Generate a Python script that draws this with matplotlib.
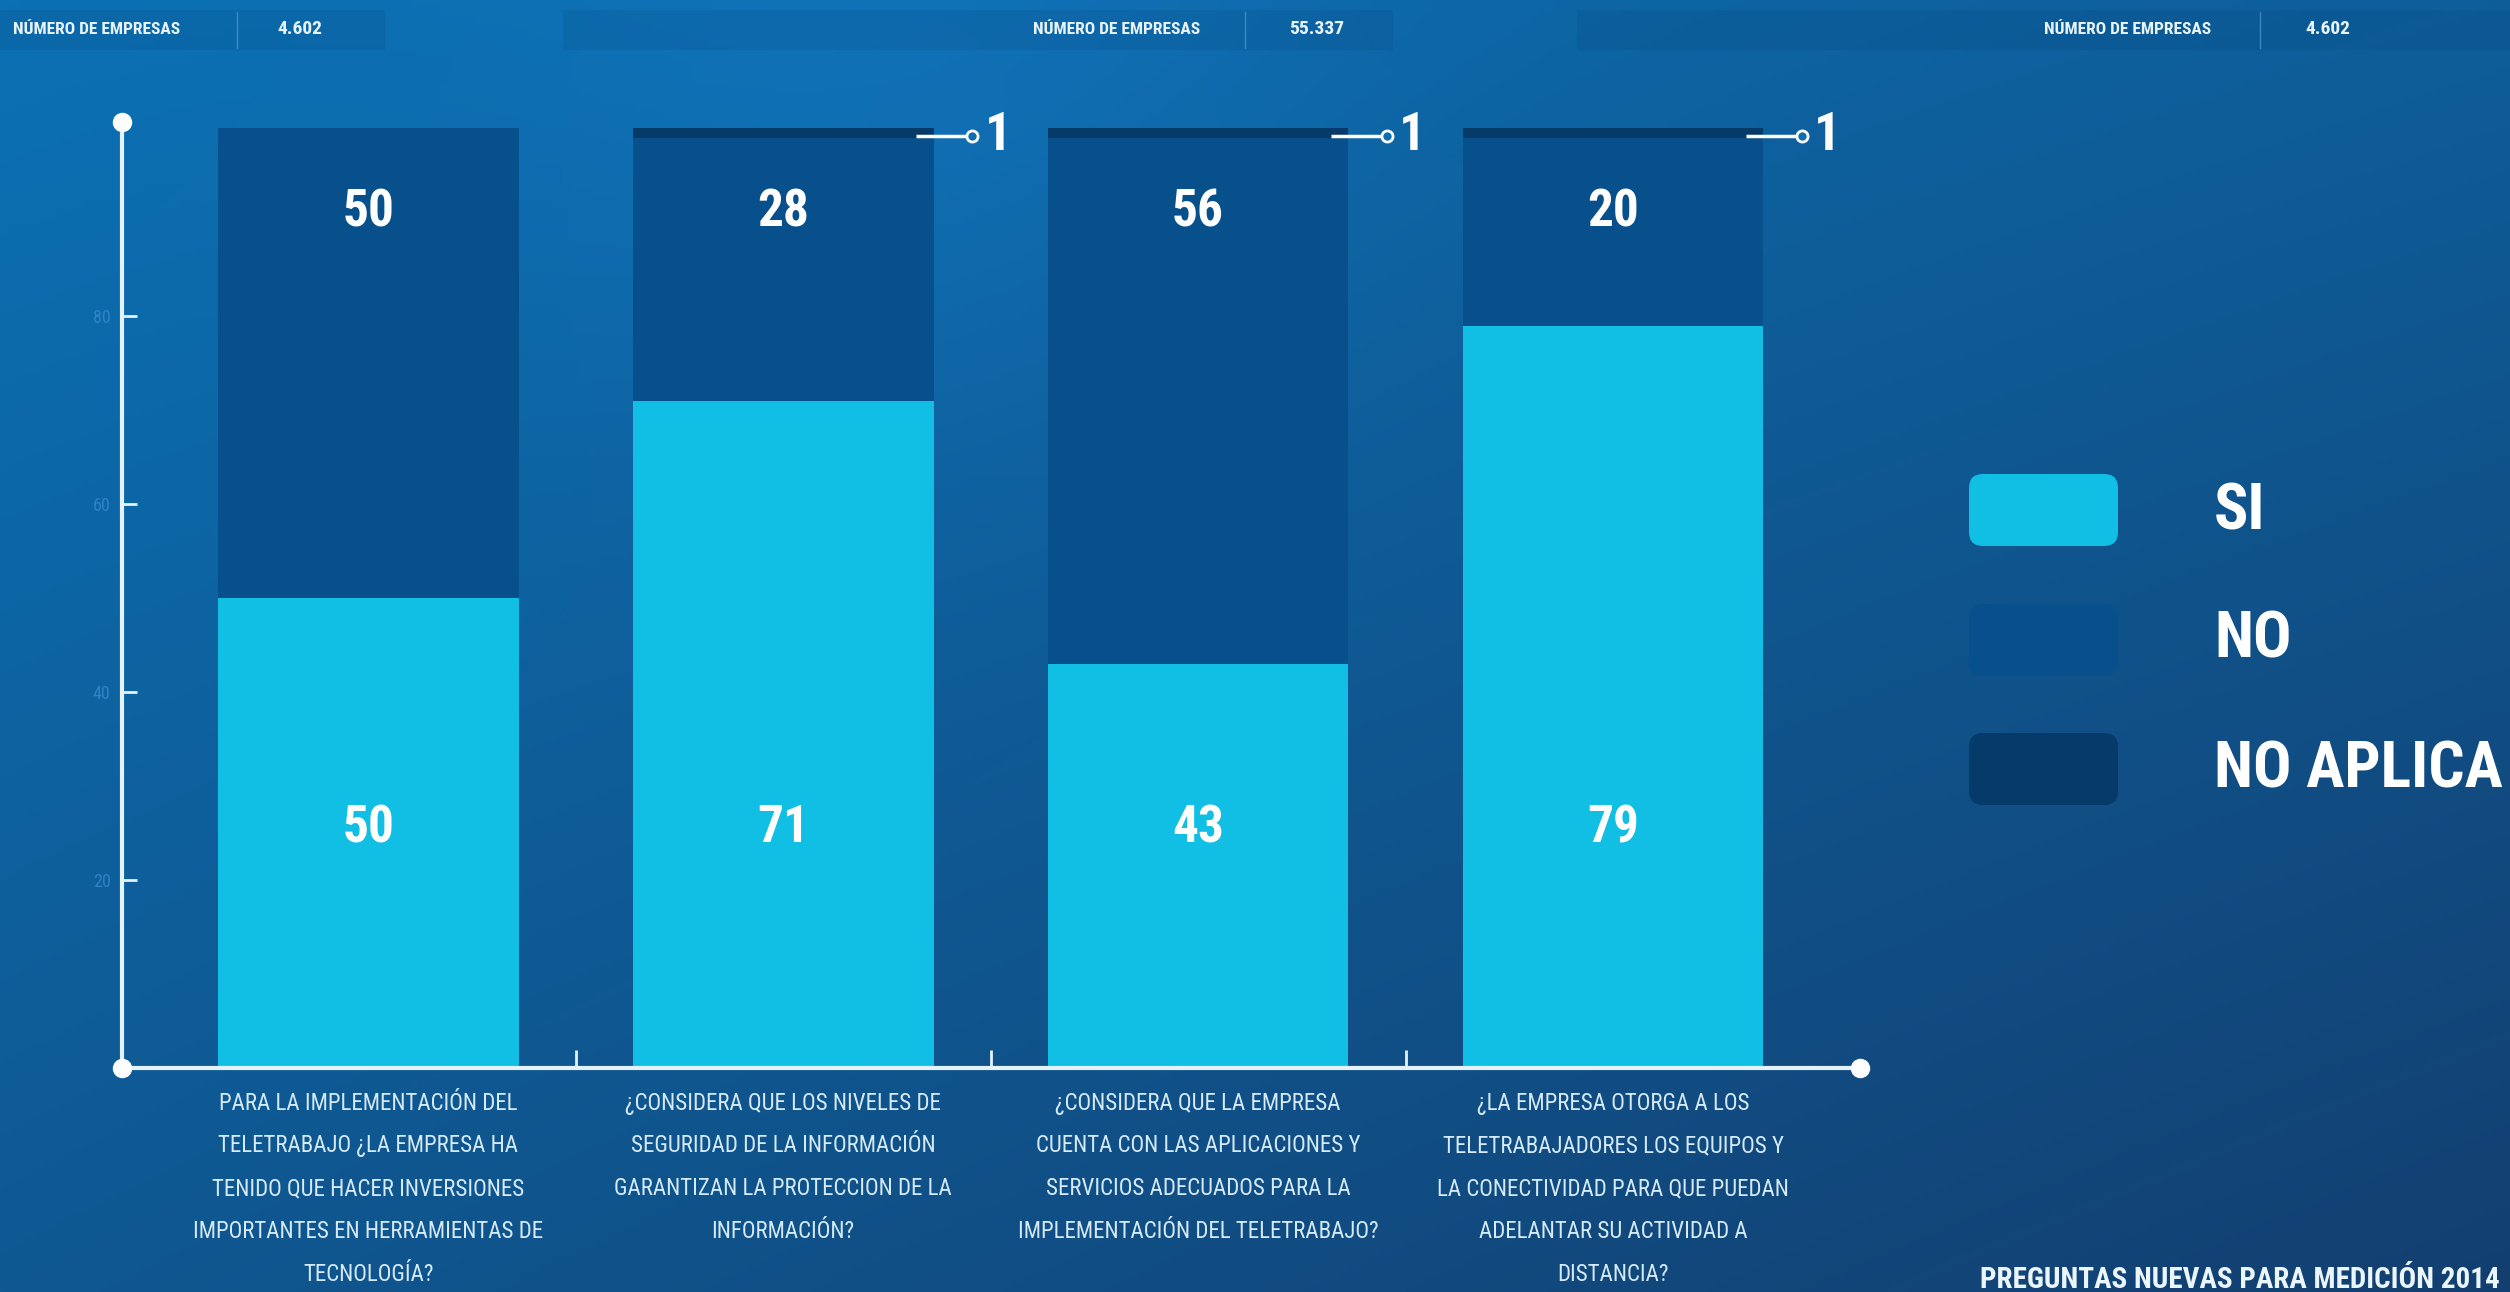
import numpy as np
import matplotlib
matplotlib.use('Agg')
import matplotlib.pyplot as plt
from matplotlib import font_manager as fm
from matplotlib.patches import FancyBboxPatch, Rectangle
from matplotlib.transforms import IdentityTransform
from matplotlib.colors import to_rgb

# ---------------- data ----------------
categories = [
    "PARA LA IMPLEMENTACIÓN DEL\nTELETRABAJO ¿LA EMPRESA HA\nTENIDO QUE HACER INVERSIONES\nIMPORTANTES EN HERRAMIENTAS DE\nTECNOLOGÍA?",
    "¿CONSIDERA QUE LOS NIVELES DE\nSEGURIDAD DE LA INFORMACIÓN\nGARANTIZAN LA PROTECCION DE LA\nINFORMACIÓN?",
    "¿CONSIDERA QUE LA EMPRESA\nCUENTA CON LAS APLICACIONES Y\nSERVICIOS ADECUADOS PARA LA\nIMPLEMENTACIÓN DEL TELETRABAJO?",
    "¿LA EMPRESA OTORGA A LOS\nTELETRABAJADORES LOS EQUIPOS Y\nLA CONECTIVIDAD PARA QUE PUEDAN\nADELANTAR SU ACTIVIDAD A\nDISTANCIA?",
]
si_values = [50, 71, 43, 79]
no_values = [50, 28, 56, 20]
na_values = [0, 1, 1, 1]
series_names = ["SI", "NO", "NO APLICA"]
y_ticks = [20, 40, 60, 80]
header_label = "NÚMERO DE EMPRESAS"
header_values = ["4.602", "55.337", "4.602"]
footer_text = "PREGUNTAS NUEVAS PARA MEDICIÓN 2014"

# ---------------- style ----------------
C_SI = "#12bfe4"
C_NO = "#07508b"
C_NA = "#053a69"
AXIS_C = "#e4f2fb"
TXT_C = "#d6ebf8"

names = {f.name for f in fm.fontManager.ttflist}
cond = None
for n in ["Roboto Condensed", "Liberation Sans Narrow", "Open Sans Condensed",
          "DejaVu Sans Condensed"]:
    if n in names:
        cond = dict(family=n)
        break
if cond is None:
    cond = dict(family="DejaVu Sans", stretch="condensed")

W, H = 2510, 1292
fig = plt.figure(figsize=(W / 100, H / 100), dpi=100)

# background gradient
bg = fig.add_axes([0, 0, 1, 1], zorder=-10)
yy, xx = np.mgrid[0:1:260j, 0:1:500j]
t = np.clip(0.50 * yy + 0.38 * xx + 0.12 * xx * yy, 0, 1)
light = np.array(to_rgb("#0b71b4"))
dark = np.array(to_rgb("#133f70"))
img = light[None, None, :] * (1 - t[..., None]) + dark[None, None, :] * t[..., None]
glow = np.exp(-(((xx - 0.36) ** 2) / 0.03 + (yy ** 2) / 0.12))
img = img + 0.05 * glow[..., None] * np.array([0.3, 0.6, 1.0])[None, None, :]
img = np.clip(img, 0, 1)
bg.imshow(img, extent=[0, 1, 0, 1], aspect="auto", origin="upper")
bg.set_axis_off()

# main axes
ax = fig.add_axes([0.0485, 0.1734, 0.6925, 0.7324])
ax.patch.set_visible(False)
xl = (-0.594, 3.595)
yl = (0, 100.7)
ax.set_xlim(*xl)
ax.set_ylim(*yl)

x = np.arange(len(categories))
w = 0.725
si = np.array(si_values)
no = np.array(no_values)
na = np.array(na_values)
ax.bar(x, si, w, color=C_SI, zorder=3, label=series_names[0])
ax.bar(x, no, w, bottom=si, color=C_NO, zorder=3, label=series_names[1])
ax.bar(x, na, w, bottom=si + no, color=C_NA, zorder=3, label=series_names[2])

for s in ["top", "right"]:
    ax.spines[s].set_visible(False)
for s in ["left", "bottom"]:
    ax.spines[s].set_color(AXIS_C)
    ax.spines[s].set_linewidth(3)
    ax.spines[s].set_zorder(4)

ax.plot([xl[0], xl[0], xl[1]], [0, yl[1], 0], "o", ms=13, color="white",
        clip_on=False, zorder=6)

ax.set_yticks(y_ticks)
ax.set_yticklabels([str(v) for v in y_ticks], **cond)
ax.tick_params(axis="y", direction="in", length=11, width=2, color=AXIS_C,
               labelcolor="#2f83c3", labelsize=13, pad=8)
ax.set_xticks([0.5, 1.5, 2.5])
ax.set_xticklabels([])
ax.tick_params(axis="x", direction="in", length=13, width=2, color=AXIS_C)

# value labels
for i in x:
    ax.text(i, 91, str(no[i]), ha="center", va="center", color="white",
            fontsize=37, fontweight="bold", zorder=5, **cond)
    ax.text(i, 25.5, str(si[i]), ha="center", va="center", color="white",
            fontsize=37, fontweight="bold", zorder=5, **cond)
    if na[i] > 0:
        yv = si[i] + no[i] + na[i] / 2 - 0.3
        ax.plot([i + 0.32, i + 0.445], [yv, yv], color="white", lw=2.5,
                zorder=6, clip_on=False, solid_capstyle="butt")
        ax.plot([i + 0.455], [yv], "o", ms=8, mfc="#0b6fb1", mec="white",
                mew=2, zorder=7, clip_on=False)
        ax.text(i + 0.485, yv, str(na[i]), ha="left", va="center",
                color="white", fontsize=38, fontweight="bold", zorder=7, **cond)

# category labels
for i, lab in enumerate(categories):
    ax.annotate(lab, xy=(i, 0), xycoords=("data", "axes fraction"),
                xytext=(0, -17), textcoords="offset points", ha="center",
                va="top", color=TXT_C, fontsize=16.5, linespacing=2.1,
                annotation_clip=False, **cond)

ID = IdentityTransform()

# legend
legend_colors = [C_SI, C_NO, C_NA]
box_y0 = [746, 616, 487]
text_y = [780, 652, 522]
for c, y0, ty, nm in zip(legend_colors, box_y0, text_y, series_names):
    fig.add_artist(FancyBboxPatch((1969, y0), 149, 72,
                                  boxstyle="round,pad=0,rounding_size=14",
                                  transform=ID, facecolor=c, edgecolor="none"))
    fig.text(2214, ty, nm, transform=ID, ha="left", va="center", color="white",
             fontsize=46, fontweight="bold", **cond)

# header strips
for x0, x1 in [(0, 385), (563, 1393), (1577, 2510)]:
    fig.add_artist(Rectangle((x0, H - 50), x1 - x0, 40, transform=ID,
                             facecolor="#063d70", alpha=0.15, edgecolor="none"))
hdr = [(13, 237, 277), (1033, 1245, 1289), (2044, 2260, 2305)]
for (lx, sx, vx), val in zip(hdr, header_values):
    fig.text(lx, H - 29, header_label, transform=ID, ha="left", va="center",
             color="#e8f4fb", fontsize=12.5, fontweight="bold", **cond)
    fig.add_artist(plt.Line2D([sx, sx], [H - 48, H - 12], transform=ID,
                              color="#5fa6d6", lw=1, alpha=0.6))
    fig.text(vx, H - 29, val, transform=ID, ha="left", va="center",
             color="#e8f4fb", fontsize=14, fontweight="bold", **cond)

# footer
fig.text(2500, 4, footer_text, transform=ID, ha="right", va="baseline",
         color="#eaf5fc", fontsize=21, fontweight="bold", **cond)

fig.savefig("out.png", dpi=100)
